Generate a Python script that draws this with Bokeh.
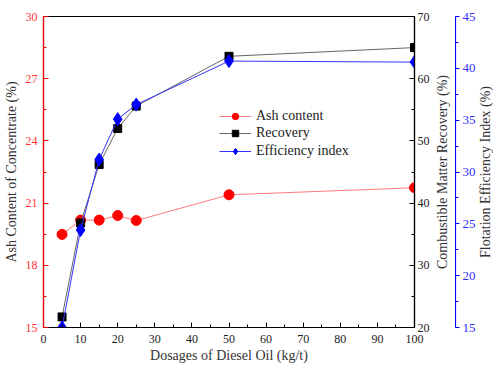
import math
from bokeh.plotting import figure
from bokeh.layouts import row
from bokeh.models import LinearAxis, Range1d, FixedTicker, Legend, LegendItem
from bokeh.core.properties import value
from bokeh.embed import file_html
from bokeh.resources import INLINE

dosage = [5, 10, 15, 20, 25, 50, 100]
ash = [19.49, 20.18, 20.18, 20.40, 20.16, 21.40, 21.74]
recovery = [21.7, 36.8, 46.2, 52.0, 55.6, 63.6, 65.0]
efficiency = [15.0, 24.4, 31.2, 35.1, 36.5, 40.7, 40.6]

x_ticks = [0, 10, 20, 30, 40, 50, 60, 70, 80, 90, 100]
ash_ticks = [15, 18, 21, 24, 27, 30]
rec_ticks = [20, 30, 40, 50, 60, 70]
eff_ticks = [15, 20, 25, 30, 35, 40, 45]

x_title = "Dosages of Diesel Oil (kg/t)"
ash_title = "Ash Content of Concentrate (%)"
rec_title = "Combustible Matter Recovery (%)"
eff_title = "Flotation Efficiency Index (%)"

FONT = "Liberation Serif"
H = 365
TOP, BOTTOM = 16, 37

def style(ax, color, tick_color, label_color, tin, tout, tick_size="12px"):
    ax.axis_line_color = color
    ax.axis_line_width = 1.2
    ax.major_tick_line_color = color
    ax.minor_tick_line_color = color
    ax.major_tick_in = tin
    ax.major_tick_out = tout
    ax.minor_tick_in = 3 if tin else 0
    ax.minor_tick_out = 3 if tout else 0
    ax.major_label_text_color = tick_color
    ax.major_label_text_font = FONT
    ax.major_label_text_font_size = tick_size
    ax.axis_label_text_font = FONT
    ax.axis_label_text_font_size = "14px"
    ax.axis_label_text_font_style = "normal"
    ax.axis_label_text_color = label_color

# ---------- main plot ----------
p = figure(width=432, height=H, output_backend="svg", toolbar_location=None,
           x_range=Range1d(0, 100), y_range=Range1d(15, 30),
           min_border_left=42, min_border_right=16, min_border_top=TOP, min_border_bottom=BOTTOM)
p.background_fill_color = "white"
p.border_fill_color = "white"
p.outline_line_color = "black"
p.outline_line_width = 1.2
p.grid.visible = False
p.extra_y_ranges = {"rec": Range1d(20, 70), "eff": Range1d(15, 45)}

xa = p.xaxis[0]
xa.ticker = FixedTicker(ticks=x_ticks, minor_ticks=[v + 5 for v in x_ticks[:-1]])
xa.axis_label = x_title
style(xa, "black", "#222222", "#333333", 5, 0)
xa.major_label_standoff = 7
xa.axis_label_standoff = 2

ya = p.yaxis[0]
ya.ticker = FixedTicker(ticks=ash_ticks, minor_ticks=[v + 1.5 for v in ash_ticks[:-1]])
ya.axis_label = ash_title
style(ya, "#ff0000", "#ff3333", "#333333", 5, 0)
ya.major_label_standoff = 6
ya.axis_label_standoff = 4

ra = LinearAxis(y_range_name="rec",
                ticker=FixedTicker(ticks=rec_ticks, minor_ticks=[v + 5 for v in rec_ticks[:-1]]))
style(ra, "black", "#222222", "#333333", 5, 0)
ra.major_label_standoff = 3
p.add_layout(ra, "right")

l1 = p.line(dosage, ash, line_color="#ff7a7a", line_width=1)
m1 = p.scatter(dosage, ash, marker="circle", size=10, fill_color="#ff0000", line_color="#ff0000")
l2 = p.line(dosage, recovery, y_range_name="rec", line_color="#666666", line_width=1)
m2 = p.scatter(dosage, recovery, y_range_name="rec", marker="square", size=8, fill_color="black", line_color="black")
l3 = p.line(dosage, efficiency, y_range_name="eff", line_color="#3333ff", line_width=1)
m3 = p.scatter(dosage, efficiency, y_range_name="eff", marker="diamond", size=13, fill_color="#0000ff", line_color="#0000ff")

for label, rends, vy in [("Ash content", [l1, m1], 203),
                         ("Recovery", [l2, m2], 186),
                         ("Efficiency index", [l3, m3], 168)]:
    lg = Legend(items=[LegendItem(label=label, renderers=rends)], location=(176, vy))
    lg.background_fill_alpha = 0
    lg.border_line_color = None
    lg.label_text_font = FONT
    lg.label_text_font_size = "14px"
    lg.label_text_color = "#222222"
    lg.glyph_width = 32
    lg.glyph_height = 16
    lg.label_height = 16
    lg.label_standoff = 5
    lg.padding = 0
    lg.margin = 0
    p.add_layout(lg, "center")

# ---------- strips for the right-hand titles and the blue axis ----------
def strip(width, title=None, xpos=0.5, yr=(0, 1), right_border=0):
    f = figure(width=width, height=H, output_backend="svg", toolbar_location=None,
               x_range=Range1d(0, 1), y_range=Range1d(*yr),
               x_axis_location=None, y_axis_location=None,
               min_border_left=0, min_border_right=right_border,
               min_border_top=TOP, min_border_bottom=BOTTOM)
    f.outline_line_color = None
    f.background_fill_color = None
    f.border_fill_color = "white"
    f.grid.visible = False
    if title is not None:
        f.text(x=[xpos], y=[0.5], text=[title], angle=math.pi / 2,
               text_align="center", text_baseline="middle",
               text_font=value(FONT), text_font_size="14px", text_color="#333333")
    return f

f_rec = strip(23, rec_title, xpos=0.42)

f_eff_axis = strip(21, yr=(15, 45), right_border=20)
ea = LinearAxis(ticker=FixedTicker(ticks=eff_ticks, minor_ticks=[v + 2.5 for v in eff_ticks[:-1]]))
style(ea, "#0000ff", "#3333ff", "#333333", 0, 4, tick_size="13px")
ea.major_label_standoff = 3
f_eff_axis.add_layout(ea, "right")

f_eff = strip(17, eff_title, xpos=0.53)

layout = row(p, f_rec, f_eff_axis, f_eff, spacing=0)
open("out.html", "w").write(file_html(layout, INLINE))
